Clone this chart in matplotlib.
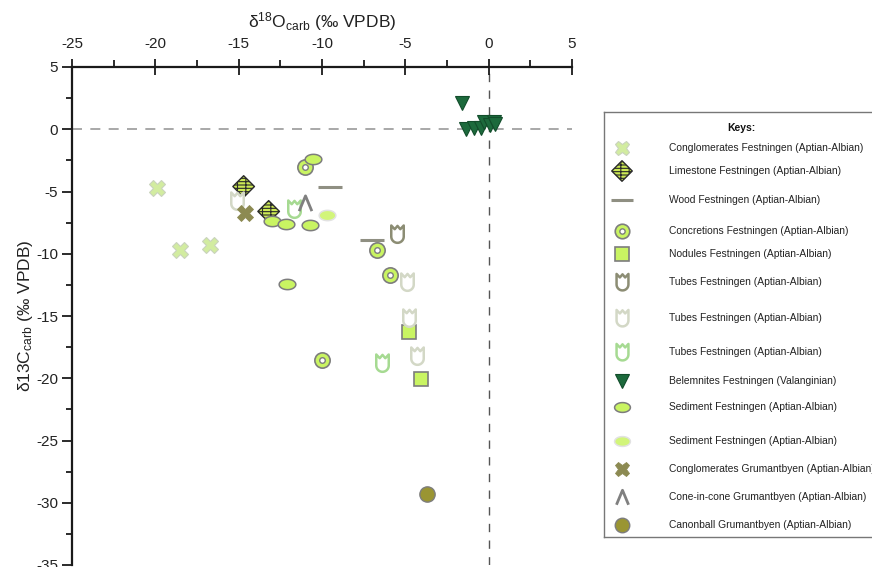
import numpy as np
import matplotlib
matplotlib.use("Agg")
import matplotlib.pyplot as plt
from matplotlib.path import Path

plt.rcParams['font.family'] = ['Liberation Sans', 'DejaVu Sans']
plt.rcParams['mathtext.fontset'] = 'custom'
plt.rcParams['mathtext.rm'] = 'Liberation Sans'
plt.rcParams['mathtext.it'] = 'Liberation Sans'

# ---- data: (delta18O, delta13C) per sample group ----
congl_fest_x = [-19.9, -18.5, -16.7]
congl_fest_y = [-4.7, -9.7, -9.3]

lime_fest_x = [-14.7, -13.2]
lime_fest_y = [-4.6, -6.6]

wood_fest_x = [-9.5, -7.0]
wood_fest_y = [-4.6, -8.9]

concr_fest_x = [-11.0, -6.7, -5.9, -10.0]
concr_fest_y = [-3.05, -9.7, -11.7, -18.5]

nod_fest_x = [-4.8, -4.05]
nod_fest_y = [-16.3, -20.1]

tubes1_x = [-5.5]
tubes1_y = [-8.4]

tubes2_x = [-15.1, -4.9, -4.8, -4.3]
tubes2_y = [-5.8, -12.3, -15.2, -18.2]

tubes3_x = [-11.7, -6.4]
tubes3_y = [-6.4, -18.8]

belem_x = [-1.6, -1.35, -0.9, -0.45, -0.3, 0.05, 0.3, 0.4]
belem_y = [2.1, 0.0, 0.1, 0.1, 0.55, 0.35, 0.6, 0.4]

sed1_x = [-10.55, -13.0, -12.15, -10.75, -12.1]
sed1_y = [-2.35, -7.4, -7.65, -7.7, -12.4]

sed2_x = [-9.7]
sed2_y = [-6.9]

congl_grum_x = [-14.65]
congl_grum_y = [-6.75]

cone_grum_x = [-11.0]
cone_grum_y = [-5.95]

canon_grum_x = [-3.7]
canon_grum_y = [-29.3]

x_ticks = [-25, -20, -15, -10, -5, 0, 5]
y_ticks = [5, 0, -5, -10, -15, -20, -25, -30, -35]

# ---- custom marker shapes ----
def tube_path():
    ang = np.linspace(np.pi, 2 * np.pi, 16)
    arc = [(0.45 * np.cos(a), -0.15 + 0.45 * np.sin(a)) for a in ang]
    verts = [(-0.45, 0.65)] + arc + [(0.45, 0.65), (0.2, 0.38), (0.0, 0.62), (-0.2, 0.38), (-0.45, 0.65)]
    return Path(verts, closed=True)

def ellipse_path():
    ang = np.linspace(0, 2 * np.pi, 40)
    verts = [(np.cos(a), 0.62 * np.sin(a)) for a in ang]
    return Path(verts, closed=True)

cone_path = Path([(-0.5, -0.6), (0.0, 0.6), (0.5, -0.6)],
                 [Path.MOVETO, Path.LINETO, Path.LINETO])

TUBE = tube_path()
ELL = ellipse_path()

lime_green = '#c9f462'

series = [
    dict(x=congl_fest_x, y=congl_fest_y, label='Conglomerates Festningen (Aptian-Albian)',
         marker='X', ms=11, mfc='#d2eca0', mec='#c9d3bd', mew=0.8, ly=148),
    dict(x=lime_fest_x, y=lime_fest_y, label='Limestone Festningen (Aptian-Albian)',
         marker='D', ms=11, mfc='#cdea55', mec='#2a2a2a', mew=1.0, ly=171, hatch=True),
    dict(x=wood_fest_x, y=wood_fest_y, label='Wood Festningen (Aptian-Albian)',
         marker='_', ms=17, mfc='#8f8f82', mec='#8f8f82', mew=2.2, ly=200),
    dict(x=concr_fest_x, y=concr_fest_y, label='Concretions Festningen (Aptian-Albian)',
         marker='o', ms=11, mfc=lime_green, mec='#7d7d7d', mew=1.2, ly=231, dot=True),
    dict(x=nod_fest_x, y=nod_fest_y, label='Nodules Festningen (Aptian-Albian)',
         marker='s', ms=10, mfc=lime_green, mec='#7d7d7d', mew=1.2, ly=254),
    dict(x=tubes1_x, y=tubes1_y, label='Tubes Festningen (Aptian-Albian)',
         marker=TUBE, ms=13, mfc='white', mec='#8c8d74', mew=1.8, ly=282),
    dict(x=tubes2_x, y=tubes2_y, label='Tubes Festningen (Aptian-Albian)',
         marker=TUBE, ms=13, mfc='white', mec='#d3d8c6', mew=1.8, ly=318),
    dict(x=tubes3_x, y=tubes3_y, label='Tubes Festningen (Aptian-Albian)',
         marker=TUBE, ms=13, mfc='white', mec='#a6da92', mew=1.8, ly=352),
    dict(x=belem_x, y=belem_y, label='Belemnites Festningen (Valanginian)',
         marker='v', ms=10.5, mfc='#1c6a3c', mec='#124d2b', mew=0.8, ly=381),
    dict(x=sed1_x, y=sed1_y, label='Sediment Festningen (Aptian-Albian)',
         marker=ELL, ms=12, mfc=lime_green, mec='#7d7d7d', mew=1.1, ly=407),
    dict(x=sed2_x, y=sed2_y, label='Sediment Festningen (Aptian-Albian)',
         marker=ELL, ms=12, mfc='#d2f57a', mec='#e2e2e2', mew=1.1, ly=441),
    dict(x=congl_grum_x, y=congl_grum_y, label='Conglomerates Grumantbyen (Aptian-Albian)',
         marker='X', ms=11, mfc='#8c8a52', mec='#8c8a52', mew=0.6, ly=469),
    dict(x=cone_grum_x, y=cone_grum_y, label='Cone-in-cone Grumantbyen (Aptian-Albian)',
         marker=cone_path, ms=11, mfc='none', mec='#808080', mew=2.0, ly=497),
    dict(x=canon_grum_x, y=canon_grum_y, label='Canonball Grumantbyen (Aptian-Albian)',
         marker='o', ms=11, mfc='#9a9533', mec='#7d7d7d', mew=1.0, ly=525),
]

W, H = 872, 567
fig = plt.figure(figsize=(W / 100, H / 100), dpi=100)
fig.patch.set_facecolor('white')

# main axes
ax_l, ax_r, ax_t, ax_b = 72, 572, 67, 565
ax = fig.add_axes([ax_l / W, (H - ax_b) / H, (ax_r - ax_l) / W, (ax_b - ax_t) / H])
ax.set_xlim(-25, 5)
ax.set_ylim(-35, 5)

ax.axhline(0, color='#9a9a9a', lw=1.2, ls=(0, (6, 5)), zorder=1)
ax.axvline(0, color='#555555', lw=1.0, ls=(0, (6, 6)), zorder=1)

plt.rcParams['hatch.linewidth'] = 0.8
plt.rcParams['hatch.color'] = '#1a1a1a'


def draw(axis, xs, ys, s, scale=1.0):
    kw = dict(ls='none', marker=s['marker'], ms=s['ms'] * scale, mfc=s['mfc'],
              mec=s['mec'], mew=s['mew'], zorder=3)
    if s.get('hatch'):
        sizes = (s['ms'] * scale) ** 2
        axis.scatter(xs, ys, marker='D', s=sizes, facecolor=s['mfc'], edgecolor=s['mec'],
                     linewidths=s['mew'], hatch='-----' + '||', zorder=3)
        return
    axis.plot(xs, ys, **kw)
    if s.get('dot'):
        axis.plot(xs, ys, ls='none', marker='o', ms=4 * scale, mfc='white',
                  mec='#7d7d7d', mew=1.0, zorder=4)


for s in series:
    draw(ax, s['x'], s['y'], s)

# axes styling: top and left spines only
for side in ('right', 'bottom'):
    ax.spines[side].set_visible(False)
for side in ('top', 'left'):
    ax.spines[side].set_linewidth(1.6)
    ax.spines[side].set_color('#1a1a1a')

ax.xaxis.tick_top()
ax.xaxis.set_label_position('top')
ax.set_xticks(x_ticks)
ax.set_xticklabels([str(v) for v in x_ticks])
ax.set_xticks(np.arange(-22.5, 5, 5), minor=True)
ax.set_yticks(y_ticks)
ax.set_yticklabels([str(v) for v in y_ticks])
ax.set_yticks(np.arange(2.5, -35, -5), minor=True)

ax.tick_params(axis='x', which='major', direction='inout', length=11, width=1.3,
               labelsize=11, pad=6, colors='#1a1a1a', labelcolor='#222222')
ax.tick_params(axis='x', which='minor', direction='out', length=5, width=1.3, colors='#1a1a1a')
ax.tick_params(axis='y', which='major', direction='out', length=7, width=1.3,
               labelsize=11, pad=3, colors='#1a1a1a', labelcolor='#222222')
ax.tick_params(axis='y', which='minor', direction='out', length=4.5, width=1.3, colors='#1a1a1a')

ax.set_xlabel(r'δ$^{\mathregular{18}}$O$_{\mathregular{carb}}$ (‰ VPDB)', fontsize=12.5,
              labelpad=7, color='#222222')
ax.set_ylabel(r'δ13C$_{\mathregular{carb}}$ (‰ VPDB)', fontsize=12.5, labelpad=1,
              color='#222222')

# legend panel drawn in pixel coordinates
lg_l, lg_r, lg_t, lg_b = 604, 920, 112, 537
lax = fig.add_axes([lg_l / W, (H - lg_b) / H, (lg_r - lg_l) / W, (lg_b - lg_t) / H])
lax.set_xlim(lg_l, lg_r)
lax.set_ylim(lg_b, lg_t)
lax.set_xticks([])
lax.set_yticks([])
for side in lax.spines:
    lax.spines[side].set_color('#777777')
    lax.spines[side].set_linewidth(1.0)

lax.text(741, 128, 'Keys:', fontsize=7.5, fontweight='bold', ha='center', va='center',
         color='#111111')
for s in series:
    draw(lax, [622], [s['ly']], s, scale=0.95)
    lax.text(669, s['ly'], s['label'], fontsize=7.4, ha='left', va='center', color='#222222')

fig.savefig('out.png', dpi=100)
